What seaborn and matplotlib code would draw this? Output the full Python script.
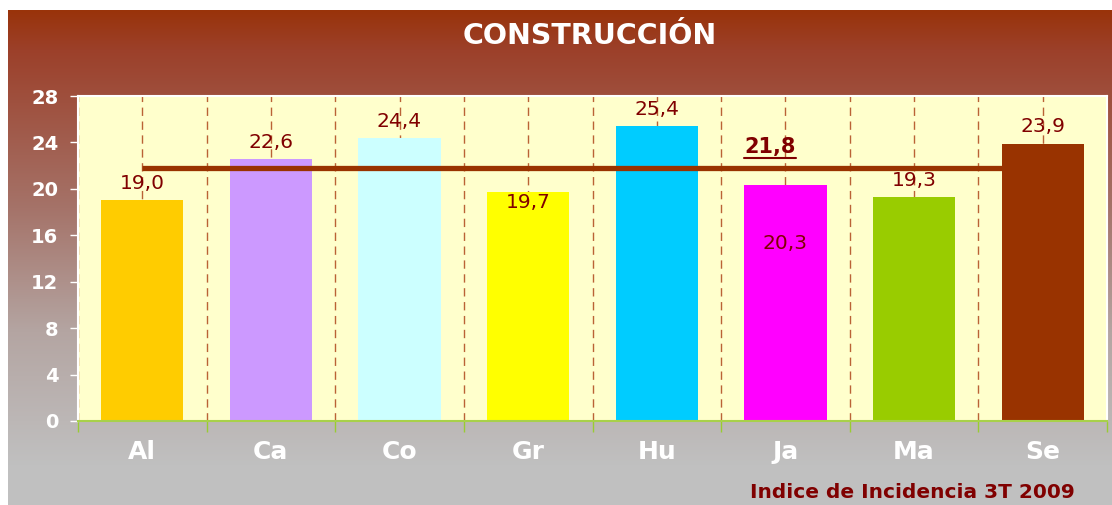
import numpy as np
import pandas as pd
import matplotlib
matplotlib.use("Agg")
import matplotlib.pyplot as plt
import seaborn as sns
from matplotlib.lines import Line2D

# data
categories = ['Al', 'Ca', 'Co', 'Gr', 'Hu', 'Ja', 'Ma', 'Se']
values = [19.0, 22.6, 24.4, 19.7, 25.4, 20.3, 19.3, 23.9]
bar_colors = ['#FFCC00', '#CC99FF', '#CCFFFF', '#FFFF00', '#00CCFF', '#FF00FF', '#99CC00', '#993300']
y_ticks = [0, 4, 8, 12, 16, 20, 24, 28]
title = 'CONSTRUCCIÓN'
footer = 'Indice de Incidencia 3T 2009'

# label offsets in points (some labels sit inside the bar in the original)
label_offsets = [12, 12, 12, -7, 12, -42, 12, 12]

df = pd.DataFrame({'cat': categories, 'val': values})
avg = np.mean(values)

sns.set_style('white')
plt.rcParams['font.family'] = ['DejaVu Sans']

fig = plt.figure(figsize=(11.12, 5.05), dpi=100, facecolor='white')

# gradient background panel (brown at top fading to grey)
bg = fig.add_axes([8 / 1112, 0, 1 - 8 / 1112, 495 / 505], zorder=0)
n = 495
stops = [0.0, 0.08, 0.4, 0.65, 0.92, 1.0]
stop_cols = np.array([[153, 51, 10], [156, 64, 42], [165, 115, 105],
                      [180, 165, 162], [192, 192, 192], [192, 192, 192]]) / 255.0
t = np.arange(n) / (n - 1)
grad = np.stack([np.interp(t, stops, stop_cols[:, c]) for c in range(3)], axis=1)
bg.imshow(grad[:, None, :], aspect='auto', extent=[0, 1, 0, 1], origin='upper')
bg.set_axis_off()

ax = fig.add_axes([78 / 1112, 84 / 505, 1029 / 1112, 325 / 505], zorder=1)
ax.set_facecolor('#FFFFCC')

sns.barplot(data=df, x='cat', y='val', hue='cat', palette=bar_colors, order=categories,
            width=0.64, legend=False, saturation=1, linewidth=0, ax=ax, zorder=2)

ax.set_xlim(-0.5, len(categories) - 0.5)
ax.set_ylim(0, 28)
ax.set_yticks(y_ticks)
ax.set_yticklabels([str(v) for v in y_ticks])
ax.set_xticks(range(len(categories)))
ax.set_xticklabels(categories)
ax.set_xticks(np.arange(len(categories) + 1) - 0.5, minor=True)

# dashed vertical gridlines at centers and boundaries
grid_c = '#BA6236'
ax.grid(False)
for x in list(range(len(categories))) + list(np.arange(len(categories) + 1) - 0.5):
    ax.axvline(x, color=grid_c, lw=1, ls=(0, (6, 4)), zorder=1)

# average line
ax.plot(range(len(categories)), [avg] * len(categories), color='#993300', lw=3.8, zorder=3,
        solid_capstyle='butt')
avg_label = ax.text(4.88, 23.6, f'{avg:.1f}'.replace('.', ','), color='#800000', fontsize=15,
                    fontweight='bold', ha='center', va='center', zorder=4)

# value labels
for i, v in enumerate(values):
    ax.annotate(f'{v:.1f}'.replace('.', ','), (i, v), xytext=(0, label_offsets[i]),
                textcoords='offset points', ha='center', va='center',
                color='#800000', fontsize=14.5, zorder=4)

ax.tick_params(axis='y', colors='white', length=6, width=1, labelsize=14, pad=8, direction='out', left=True)
ax.tick_params(axis='x', which='major', length=0, labelcolor='white', labelsize=18, pad=14)
ax.tick_params(axis='x', which='minor', length=8, width=1, color='#99CC33', direction='out', bottom=True)
for lab in ax.get_yticklabels() + ax.get_xticklabels():
    lab.set_fontweight('bold')
ax.set_xlabel('')
ax.set_ylabel('')

for s in ['top', 'left', 'right']:
    ax.spines[s].set_color('white')
    ax.spines[s].set_linewidth(1.5)
ax.spines['bottom'].set_color('#A8D04A')
ax.spines['bottom'].set_linewidth(1.5)

fig.text(590 / 1112, 1 - 36 / 505, title, color='white', fontsize=20.5, fontweight='bold',
         ha='center', va='center')
fig.text(912 / 1112, 1 - 492 / 505, footer, color='#800000', fontsize=14.5, fontweight='bold',
         ha='center', va='center')

# underline the average label, based on its rendered extent
fig.canvas.draw()
bb = avg_label.get_window_extent()
uy = (bb.y0 - 1) / fig.bbox.height
fig.add_artist(Line2D([bb.x0 / fig.bbox.width, bb.x1 / fig.bbox.width], [uy, uy],
                      transform=fig.transFigure, color='#800000', lw=1.5, zorder=5))

fig.savefig('out.png', dpi=100, facecolor='white')
